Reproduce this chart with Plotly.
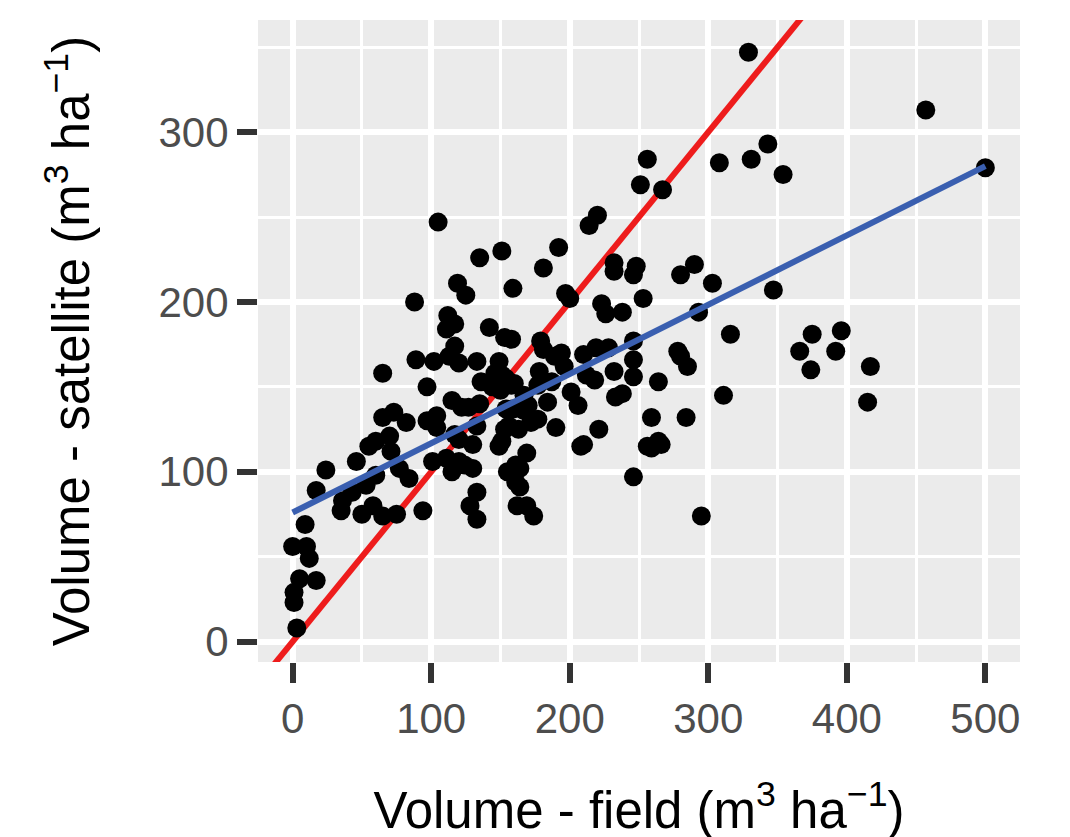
import plotly.graph_objects as go

# Field-measured volume (m3/ha) and satellite-estimated volume (m3/ha)
field = [329, 457, 500, 105, 256, 251, 267, 308, 331, 343, 354, 347, 220, 214,
         151, 135, 119, 125, 159, 88, 112, 117, 111, 142, 153, 117, 120, 113,
         89, 102, 133, 149, 65, 97, 136, 151, 158, 144, 115, 122, 135, 154,
         65, 73, 82, 97, 104, 104, 133, 153, 60, 70, 120, 130, 151,
         192, 181, 197, 200, 232, 232, 248, 246, 280, 290, 303, 253, 223, 226,
         238, 293, 316, 158, 179, 181, 189, 194, 210, 219, 228, 246, 246, 278,
         280, 285, 178, 196, 212, 218, 232, 246, 264, 160, 201, 206, 238, 311,
         167, 184, 172, 190, 163, 221, 259, 284, 210, 264, 256,
         375, 396, 366, 392, 374, 417, 415,
         24, 17, 46, 55, 71, 77, 60, 53, 43, 36, 35, 50, 58, 65, 75, 84, 94,
         101, 111, 120, 130, 115, 133, 128, 133, 149, 155, 161, 162,
         9, 0, 10, 12, 5, 17, 1, 1, 3,
         169, 164, 164, 169, 174, 208, 259, 266, 246, 295,
         146, 154, 150, 187, 127, 170, 177, 233, 156, 117, 124, 161, 159, 167, 177]
satellite = [347, 313, 279, 247, 284, 269, 266, 282, 284, 293, 275, 207, 251, 245,
             230, 226, 211, 204, 208, 200, 192, 187, 184, 185, 179, 174, 164, 168,
             166, 165, 165, 165, 158, 150, 153, 157, 151, 150, 142, 138, 140, 137,
             132, 135, 129, 130, 133, 126, 127, 125, 118, 121, 119, 116, 118,
             232, 220, 205, 202, 223, 218, 221, 216, 216, 222, 211, 202, 199, 193,
             194, 194, 181, 178, 177, 172, 168, 170, 169, 173, 173, 177, 166, 171,
             168, 162, 159, 162, 157, 154, 159, 156, 153, 152, 147, 139, 146, 145,
             136, 141, 129, 126, 125, 125, 132, 132, 116, 118, 115,
             181, 183, 171, 171, 160, 162, 141,
             101, 89, 106, 115, 112, 102, 98, 92, 88, 83, 77, 75, 80, 74, 75, 96, 77,
             106, 108, 106, 102, 100, 88, 80, 72, 115, 100, 94, 80,
             69, 56, 56, 49, 37, 36, 29, 23, 8,
             111, 102, 91, 80, 74, 115, 114, 116, 97, 74,
             158, 155, 148, 153, 138, 139, 131, 144, 127, 122, 104, 104, 137, 145, 151]

# Linear fit (satellite ~ field) and 1:1 reference line
fit_intercept = 76
fit_slope = 0.408
ref_intercept = 0
ref_slope = 1

x_range = [-25, 525]
y_range = [-12, 366]
x_ticks = [0, 100, 200, 300, 400, 500]
y_ticks = [0, 100, 200, 300]

fig = go.Figure()

ref_x = [x_range[0], x_range[1]]
fig.add_trace(go.Scatter(
    x=ref_x, y=[ref_intercept + ref_slope * v for v in ref_x],
    mode="lines", line=dict(color="#EE1C1C", width=6),
    hoverinfo="skip", showlegend=False))

fig.add_trace(go.Scatter(
    x=field, y=satellite, mode="markers",
    marker=dict(color="black", size=19, line=dict(width=0)),
    showlegend=False))

fit_x = [min(field), max(field)]
fig.add_trace(go.Scatter(
    x=fit_x, y=[fit_intercept + fit_slope * v for v in fit_x],
    mode="lines", line=dict(color="#3A5FB0", width=6),
    hoverinfo="skip", showlegend=False))

axis_common = dict(
    showgrid=True, gridcolor="white", gridwidth=6,
    zeroline=False, showline=False,
    ticks="outside", ticklen=20, tickwidth=6, tickcolor="#333333",
    tickfont=dict(family="Liberation Sans, Arial, sans-serif", size=42, color="#4D4D4D"),
)

fig.update_layout(
    width=1070, height=837,
    margin=dict(l=250, r=58, t=12, b=183),
    paper_bgcolor="white", plot_bgcolor="#EBEBEB",
    font=dict(family="Liberation Sans, Arial, sans-serif", color="black"),
    xaxis=dict(
        range=x_range, tickvals=x_ticks,
        minor=dict(dtick=50, showgrid=True, gridcolor="white", gridwidth=3, ticks=""),
        title=dict(text="Volume - field (m<sup>3</sup> ha<sup>\u22121</sup>)",
                   font=dict(size=51, color="black"), standoff=50),
        **axis_common),
    yaxis=dict(
        range=y_range, tickvals=y_ticks,
        minor=dict(dtick=50, showgrid=True, gridcolor="white", gridwidth=3, ticks=""),
        title=dict(text="Volume - satellite (m<sup>3</sup> ha<sup>\u22121</sup>)",
                   font=dict(size=51, color="black"), standoff=52),
        **axis_common),
)

fig.write_html("out.html")
